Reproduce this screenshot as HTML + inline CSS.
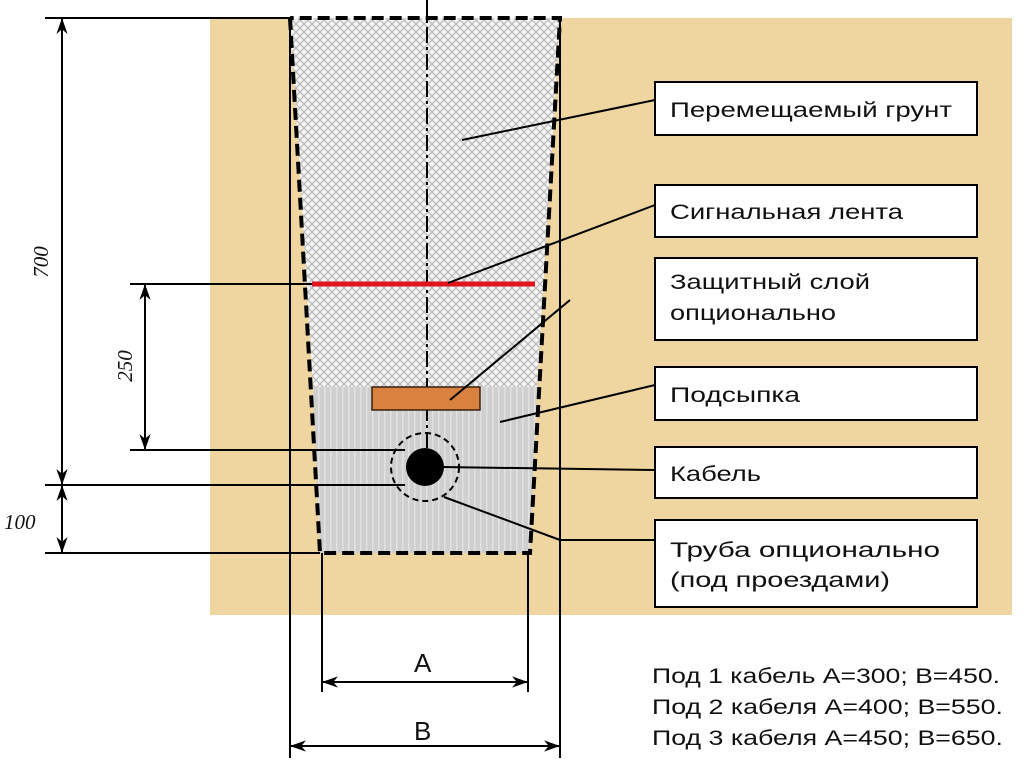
<!DOCTYPE html>
<html><head><meta charset="utf-8"><style>body{margin:0;background:#fff}svg{display:block}</style></head><body>
<svg width="1024" height="768" viewBox="0 0 1024 768" xmlns="http://www.w3.org/2000/svg" font-family="Liberation Sans, sans-serif">
<defs>
<pattern id="ch" width="8" height="8" patternUnits="userSpaceOnUse"><rect width="8" height="8" fill="#f4f4f4"/><path d="M0 0L8 8M8 0L0 8" stroke="#b8b8b8" stroke-width="1.2"/></pattern>
<pattern id="gr" width="6" height="6" patternUnits="userSpaceOnUse"><rect width="6" height="6" fill="#cfcfcf"/><rect x="0" y="0" width="1.5" height="6" fill="#e2e2e2"/></pattern>
<marker id="ar" viewBox="0 0 10 10" refX="10" refY="5" markerWidth="16" markerHeight="16" orient="auto-start-reverse" markerUnits="userSpaceOnUse"><path d="M0 1.5L10 5L0 8.5L3 5Z" fill="#000"/></marker>
</defs>
<rect x="210" y="18" width="802" height="597" fill="#efd6a0"/>
<polygon points="290,18 560,18 537,387 313,387" fill="url(#ch)"/>
<polygon points="313,387 537,387 530,553 320,553" fill="url(#gr)"/>
<polyline points="290,18 320,553 530,553 560,18 290,18" fill="none" stroke="#000" stroke-width="4" stroke-dasharray="12,6"/>
<line x1="427" y1="0" x2="427" y2="470" stroke="#000" stroke-width="2" stroke-dasharray="16,4,3,4"/>
<line x1="312" y1="284" x2="535" y2="284" stroke="#e0141c" stroke-width="5"/>
<rect x="372" y="387" width="108" height="23" fill="#d9823f" stroke="#3a2010" stroke-width="1.5"/>
<circle cx="425" cy="467" r="34" fill="none" stroke="#000" stroke-width="2" stroke-dasharray="6,4"/>
<circle cx="425" cy="467" r="19" fill="#000"/>
<g stroke="#000" stroke-width="2" fill="none">
<line x1="45" y1="18" x2="290" y2="18"/>
<line x1="62" y1="18" x2="62" y2="485" marker-start="url(#ar)" marker-end="url(#ar)"/>
<line x1="130" y1="284" x2="312" y2="284"/>
<line x1="145" y1="284" x2="145" y2="450" marker-start="url(#ar)" marker-end="url(#ar)"/>
<line x1="130" y1="450" x2="405" y2="450"/>
<line x1="45" y1="485" x2="405" y2="485"/>
<line x1="45" y1="553" x2="320" y2="553"/>
<line x1="62" y1="485" x2="62" y2="553" marker-start="url(#ar)" marker-end="url(#ar)"/>
<line x1="290" y1="18" x2="290" y2="758"/>
<line x1="560" y1="18" x2="560" y2="758"/>
<line x1="322" y1="553" x2="322" y2="692"/>
<line x1="528" y1="553" x2="528" y2="692"/>
<line x1="322" y1="682" x2="528" y2="682" marker-start="url(#ar)" marker-end="url(#ar)"/>
<line x1="290" y1="746" x2="560" y2="746" marker-start="url(#ar)" marker-end="url(#ar)"/>
<line x1="462" y1="140" x2="655" y2="100"/>
<line x1="448" y1="283" x2="655" y2="205"/>
<line x1="450" y1="400" x2="570" y2="300"/>
<line x1="500" y1="422" x2="655" y2="385"/>
<line x1="442" y1="467" x2="655" y2="470"/>
<line x1="444" y1="497" x2="560" y2="540"/><line x1="560" y1="540" x2="655" y2="540"/>
</g>
<g fill="#fff" stroke="#000" stroke-width="2">
<rect x="655" y="82" width="322" height="53"/>
<rect x="655" y="185" width="322" height="52"/>
<rect x="655" y="258" width="322" height="82"/>
<rect x="655" y="367" width="322" height="53"/>
<rect x="655" y="447" width="322" height="51"/>
<rect x="655" y="520" width="322" height="87"/>
</g>
<g font-size="21" fill="#111" lengthAdjust="spacingAndGlyphs">
<text x="670" y="117" textLength="282" lengthAdjust="spacingAndGlyphs">Перемещаемый грунт</text>
<text x="670" y="219" textLength="233" lengthAdjust="spacingAndGlyphs">Сигнальная лента</text>
<text x="670" y="289" textLength="200" lengthAdjust="spacingAndGlyphs">Защитный слой</text>
<text x="670" y="320" textLength="166" lengthAdjust="spacingAndGlyphs">опционально</text>
<text x="670" y="402" textLength="130" lengthAdjust="spacingAndGlyphs">Подсыпка</text>
<text x="670" y="481" textLength="91" lengthAdjust="spacingAndGlyphs">Кабель</text>
<text x="670" y="557" textLength="270" lengthAdjust="spacingAndGlyphs">Труба опционально</text>
<text x="670" y="587" textLength="220" lengthAdjust="spacingAndGlyphs">(под проездами)</text>
<text x="414" y="672" font-size="26">A</text>
<text x="414" y="740" font-size="26">B</text>
<text x="652" y="683" textLength="348" lengthAdjust="spacingAndGlyphs">Под 1 кабель A=300; B=450.</text>
<text x="652" y="714" textLength="351" lengthAdjust="spacingAndGlyphs">Под 2 кабеля A=400; B=550.</text>
<text x="652" y="745" textLength="351" lengthAdjust="spacingAndGlyphs">Под 3 кабеля A=450; B=650.</text>
</g>
<g font-family="Liberation Serif, serif" font-style="italic" font-size="21" fill="#111">
<text transform="translate(48,262) rotate(-90)" text-anchor="middle">700</text>
<text transform="translate(132,366) rotate(-90)" text-anchor="middle">250</text>
<text x="4" y="529">100</text>
</g>
</svg>
</body></html>
